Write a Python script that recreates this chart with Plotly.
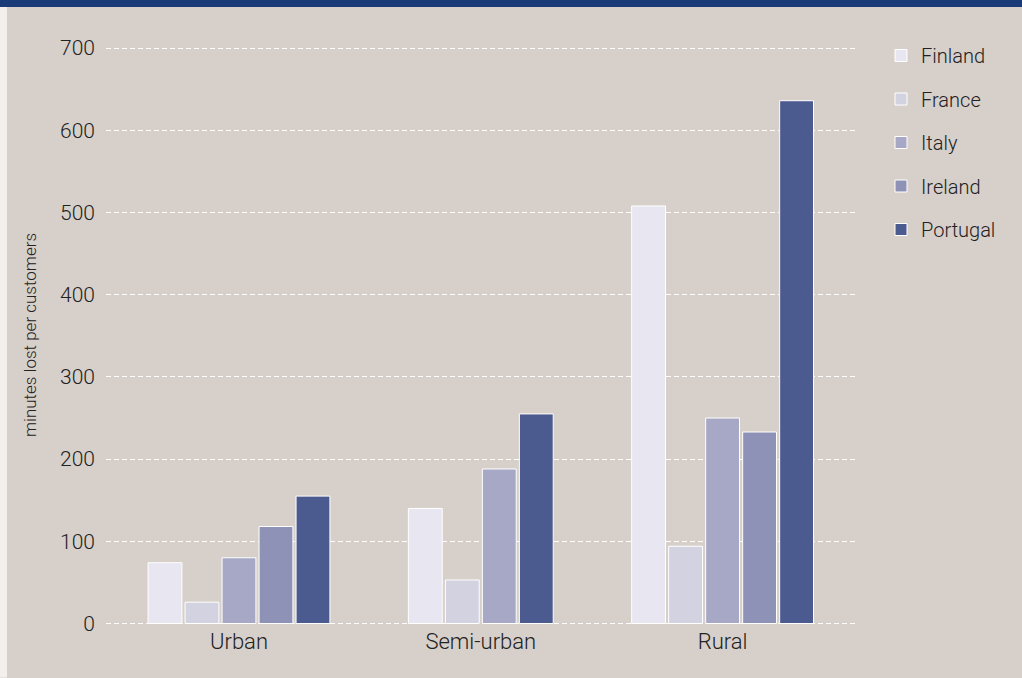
import plotly.graph_objects as go

categories = ["Urban", "Semi-urban", "Rural"]
countries = ["Finland", "France", "Italy", "Ireland", "Portugal"]
finland = [74, 140, 508]
france = [26, 53, 94]
italy = [80, 188, 250]
ireland = [118, None, 233]
portugal = [155, 255, 636]
y_ticks = [0, 100, 200, 300, 400, 500, 600, 700]

series = [finland, france, italy, ireland, portugal]
colors = ["#e8e7f1", "#d2d2e1", "#a6a8c5", "#8f92b7", "#4b5a8f"]

BG = "#d7cfc9"
FONT = "Roboto"

# layout geometry (pixels)
W, H = 1022, 678
L, R = 106, 858
y0, y1 = -3, 705
T = 44
B = 626.5
pw = R - L
ph = B - T

pitch = 0.153
bw = 0.14

fig = go.Figure()
for i, (name, vals) in enumerate(zip(countries, series)):
    offs = []
    for j in range(len(categories)):
        present = [k for k in range(len(countries)) if series[k][j] is not None]
        n = len(present)
        if vals[j] is None:
            offs.append(0)
            continue
        k = present.index(i)
        offs.append(-n * pitch / 2 + k * pitch + (pitch - bw) / 2)
    fig.add_trace(go.Bar(
        x=categories, y=vals, name=name, offset=offs, width=bw,
        marker=dict(color=colors[i], line=dict(color="white", width=1)),
        legendgroup=name,
    ))

fig.update_layout(
    width=W, height=H,
    margin=dict(l=L, r=W - R, t=T, b=H - B, pad=0),
    paper_bgcolor=BG, plot_bgcolor=BG,
    barmode="overlay",
    font=dict(family=FONT, color="#222222", weight=300),
    xaxis=dict(range=[-0.55, 2.56], showgrid=False, zeroline=False, showline=False,
               ticks="", tickfont=dict(size=22, color="#222222", weight=300)),
    yaxis=dict(range=[y0, y1], tickvals=y_ticks, showgrid=True, gridcolor="white",
               griddash="5px,3px", gridwidth=1, zeroline=False, showline=False,
               ticks="", ticklabelstandoff=10,
               tickfont=dict(size=21, color="#222222", weight=300),
               title=dict(text="minutes lost per customers",
                          font=dict(size=17, color="#222222", weight=300),
                          standoff=19)),
    legend=dict(x=(881 - L) / pw, y=1 + 8 / ph, xanchor="left", yanchor="top",
                font=dict(size=20, color="#222222", weight=300), tracegroupgap=14.5,
                bgcolor="rgba(0,0,0,0)"),
    showlegend=True,
    shapes=[
        dict(type="rect", xref="paper", yref="paper", layer="above",
             x0=-L / pw, x1=(W - L) / pw, y0=1 + (T - 7) / ph, y1=1 + T / ph,
             fillcolor="#1a3a78", line=dict(width=0)),
        dict(type="rect", xref="paper", yref="paper", layer="above",
             x0=-L / pw, x1=(7 - L) / pw, y0=-(H - B) / ph, y1=1 + (T - 7) / ph,
             fillcolor="#f2efec", line=dict(width=0)),
    ],
)

fig.write_html("out.html")
